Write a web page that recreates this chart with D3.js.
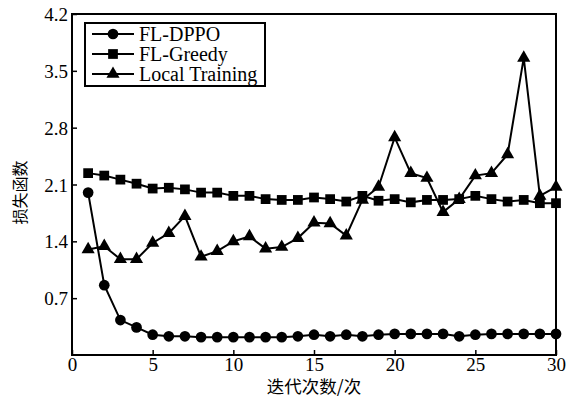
<!DOCTYPE html>
<meta charset="utf-8">
<style>
body { margin: 0; background: #fff; }
.line { fill: none; stroke: #000; stroke-width: 2px; }
</style>
<body>
<script src="https://d3js.org/d3.v7.min.js"></script>
<script>

// data
var iterations = d3.range(1, 31);
var flDppo = [2.0, 0.86, 0.43, 0.34, 0.25, 0.23, 0.23, 0.22, 0.22, 0.22,
              0.22, 0.22, 0.22, 0.23, 0.25, 0.23, 0.25, 0.23, 0.25, 0.26,
              0.26, 0.26, 0.26, 0.23, 0.25, 0.26, 0.26, 0.26, 0.26, 0.26];
var flGreedy = [2.24, 2.21, 2.16, 2.11, 2.05, 2.06, 2.04, 2.0, 2.0, 1.96,
                1.96, 1.92, 1.91, 1.91, 1.94, 1.92, 1.89, 1.96, 1.90, 1.92,
                1.88, 1.91, 1.91, 1.92, 1.96, 1.92, 1.89, 1.91, 1.87, 1.87];
var localTraining = [1.30, 1.34, 1.18, 1.18, 1.38, 1.50, 1.71, 1.21, 1.28, 1.40,
                     1.46, 1.31, 1.33, 1.44, 1.63, 1.62, 1.47, 1.91, 2.07, 2.68,
                     2.24, 2.18, 1.76, 1.92, 2.21, 2.24, 2.47, 3.66, 1.96, 2.07];
var seriesNames = ["FL-DPPO", "FL-Greedy", "Local Training"];
var xTicks = [0, 5, 10, 15, 20, 25, 30];
var yTicks = [0.7, 1.4, 2.1, 2.8, 3.5, 4.2];

var serif = "'Liberation Serif', 'DejaVu Serif', serif";
var cjk = "'Noto Sans CJK SC', sans-serif";

var margin = {top: 14, right: 15, bottom: 43, left: 72},
    width = 571 - margin.left - margin.right,
    height = 398 - margin.top - margin.bottom;

var x = d3.scaleLinear().domain([0, 30]).range([0, width]);
var y = d3.scaleLinear().domain([0, 4.2]).range([height, 0]);

var svg = d3.select("body").append("svg")
    .attr("width", 571)
    .attr("height", 398)
  .append("g")
    .attr("transform", "translate(" + margin.left + "," + margin.top + ")");

// axes, ticks pointing inward
var xAxis = svg.append("g")
    .attr("transform", "translate(0," + height + ")")
    .call(d3.axisBottom(x).tickValues(xTicks).tickSize(-5).tickPadding(4).tickSizeOuter(0));
var yAxis = svg.append("g")
    .call(d3.axisLeft(y).tickValues(yTicks).tickFormat(d3.format(".1f")).tickSize(-5).tickPadding(4).tickSizeOuter(0));

[xAxis, yAxis].forEach(function(a) {
  a.attr("font-family", serif);
  a.select(".domain").remove();
  a.selectAll("line").attr("stroke", "#000").attr("stroke-width", 1.5);
  a.selectAll("text").style("font-family", serif).style("font-size", "19px").attr("fill", "#000");
});
yAxis.selectAll("text").attr("dy", "0.35em");
xAxis.selectAll("text").attr("dy", "0.65em");

// frame
svg.append("rect")
    .attr("width", width).attr("height", height)
    .attr("fill", "none").attr("stroke", "#000").attr("stroke-width", 2);

var valueline = d3.line()
    .x(function(d, i) { return x(iterations[i]); })
    .y(function(d) { return y(d); });

var symbols = [d3.symbolCircle, d3.symbolSquare, d3.symbolTriangle];
var sizes = [90, 95, 75];
var allSeries = [flDppo, flGreedy, localTraining];

allSeries.forEach(function(s, k) {
  svg.append("path").datum(s).attr("class", "line").attr("d", valueline);
  svg.selectAll(".m" + k).data(s).enter().append("path")
      .attr("class", "m" + k)
      .attr("transform", function(d, i) { return "translate(" + x(iterations[i]) + "," + y(d) + ")"; })
      .attr("d", d3.symbol().type(symbols[k]).size(sizes[k]));
});

// legend
var legend = svg.append("g").attr("transform", "translate(13,9)");
legend.append("rect")
    .attr("width", 180).attr("height", 63)
    .attr("fill", "#fff").attr("stroke", "#000").attr("stroke-width", 2);
seriesNames.forEach(function(name, k) {
  var row = legend.append("g").attr("transform", "translate(0," + (11 + k * 20) + ")");
  row.append("line").attr("x1", 7).attr("x2", 49).attr("stroke", "#000").attr("stroke-width", 2);
  row.append("path").attr("transform", "translate(28,0)")
      .attr("d", d3.symbol().type(symbols[k]).size(sizes[k]));
  row.append("text").attr("x", 54).attr("dy", "0.35em")
      .style("font-family", serif).style("font-size", "20px").text(name);
});

// axis titles
svg.append("text")
    .attr("x", width / 2).attr("y", height + 38)
    .attr("text-anchor", "middle")
    .style("font-family", cjk).style("font-size", "17.5px")
    .text("迭代次数/次");
svg.append("text")
    .attr("transform", "translate(-46," + (y(2.1) + 8) + ") rotate(-90)")
    .attr("text-anchor", "middle")
    .style("font-family", cjk).style("font-size", "16px")
    .text("损失函数");

</script>
</body>
